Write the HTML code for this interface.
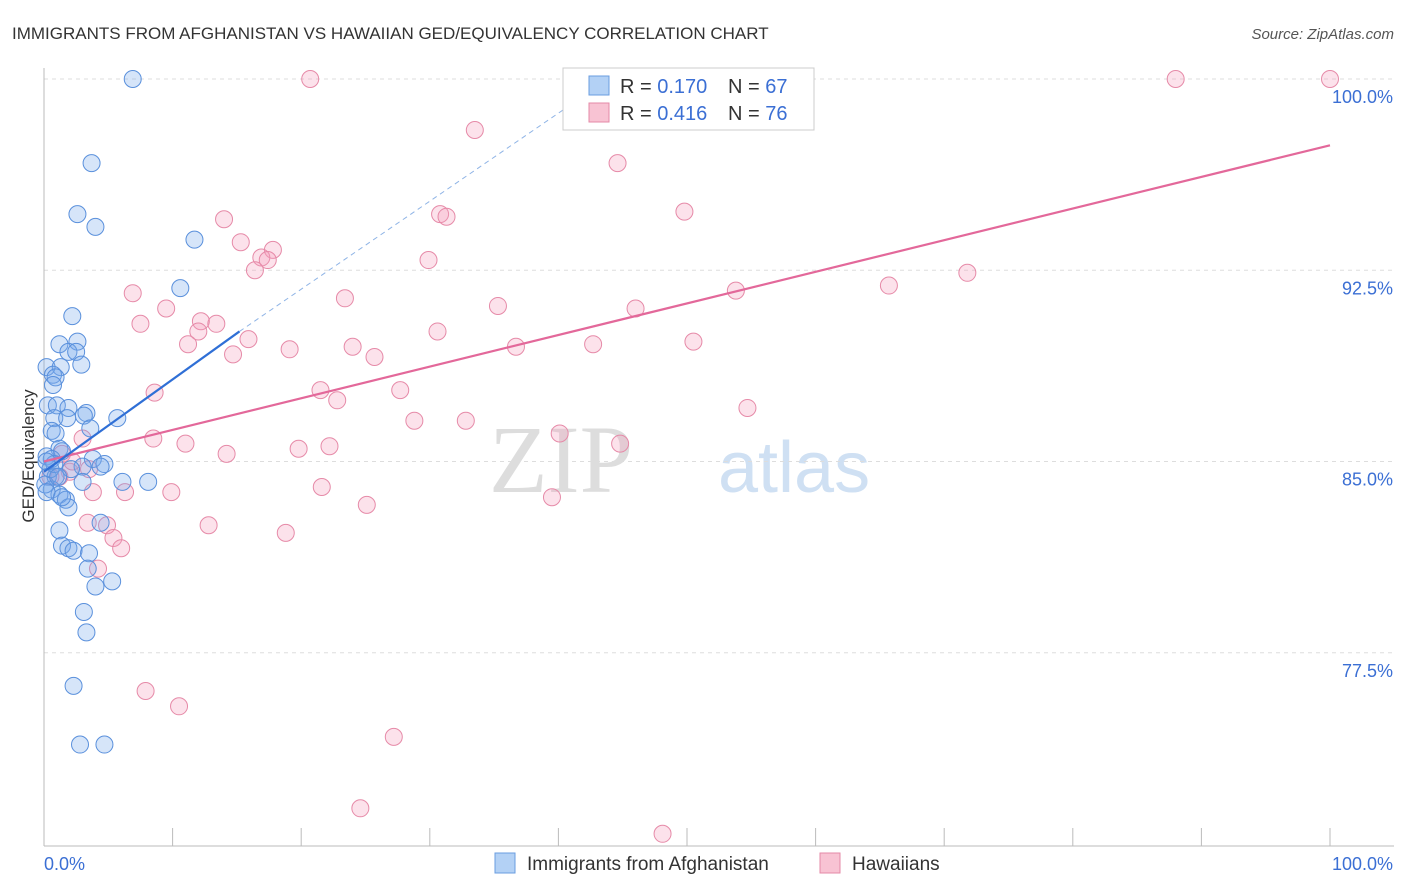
<!DOCTYPE html>
<html><head><meta charset="utf-8"><style>
body{margin:0;background:#fff;font-family:"Liberation Sans",sans-serif}
svg{display:block}
</style></head><body>
<svg id="chart" width="1406" height="892" xmlns="http://www.w3.org/2000/svg">
<text x="12" y="39" font-size="17" fill="#333">IMMIGRANTS FROM AFGHANISTAN VS HAWAIIAN GED/EQUIVALENCY CORRELATION CHART</text>
<text x="1394" y="39" font-size="15" fill="#555" font-style="italic" text-anchor="end">Source: ZipAtlas.com</text>
<g>
<text x="633" y="492" font-size="96" fill="#ddd" text-anchor="end" font-family="Liberation Serif,serif">ZIP</text>
<text x="718" y="492" font-size="72" fill="#cfe0f3">atlas</text>
</g>
<g id="grid"></g><g id="axes"></g><g id="pts"></g><g id="trend"></g>
<g>
<rect x="563" y="68" width="251" height="62" fill="#fff" stroke="#ccc"/>
<rect x="589" y="76" width="20" height="19" fill="#b3d1f5" stroke="#6a9de0"/>
<rect x="589" y="103" width="20" height="19" fill="#f8c3d3" stroke="#e48aa7"/>
<text x="620" y="93" font-size="20" fill="#333">R = <tspan fill="#3b6fd4">0.170</tspan></text>
<text x="728" y="93" font-size="20" fill="#333">N = <tspan fill="#3b6fd4">67</tspan></text>
<text x="620" y="120" font-size="20" fill="#333">R = <tspan fill="#3b6fd4">0.416</tspan></text>
<text x="728" y="120" font-size="20" fill="#333">N = <tspan fill="#3b6fd4">76</tspan></text>
</g>
<g>
<rect x="495" y="853" width="20" height="20" fill="#b3d1f5" stroke="#6a9de0"/>
<text x="527" y="870" font-size="19" fill="#333">Immigrants from Afghanistan</text>
<rect x="820" y="853" width="20" height="20" fill="#f8c3d3" stroke="#e48aa7"/>
<text x="852" y="870" font-size="19" fill="#333">Hawaiians</text>
</g>
<text transform="translate(34,456) rotate(-90)" font-size="17" fill="#333" text-anchor="middle">GED/Equivalency</text>
</svg>
<script>
const yTicks=[100,92.5,85,77.5];
const yTickLabels=["100.0%","92.5%","85.0%","77.5%"];
const xLabels=["0.0%","100.0%"];
const blueX=[6.9,3.7,2.6,4.0,11.7,10.6,2.2,1.2,2.6,1.9,2.5,2.9,0.2,1.3,0.7,0.9,0.7,0.3,1.0,1.9,3.3,3.1,5.7,0.8,1.8,0.6,0.9,3.6,1.2,1.4,3.8,4.7,3.0,0.2,0.6,2.1,0.3,0.9,3.0,6.1,8.1,0.6,1.2,1.7,1.9,4.4,1.2,1.4,1.9,2.3,3.5,3.4,4.0,5.3,3.1,3.3,2.3,2.8,4.7,0.1,0.2,1.4,0.5,0.8,4.4,0.2,1.1];
const blueY=[100,96.7,94.7,94.2,93.7,91.8,90.7,89.6,89.7,89.3,89.3,88.8,88.7,88.7,88.4,88.3,88.0,87.2,87.2,87.1,86.9,86.8,86.7,86.7,86.7,86.2,86.1,86.3,85.5,85.4,85.1,84.9,84.8,85.2,85.1,84.7,84.4,84.4,84.2,84.2,84.2,83.9,83.7,83.5,83.2,82.6,82.3,81.7,81.6,81.5,81.4,80.8,80.1,80.3,79.1,78.3,76.2,73.9,73.9,84.1,83.8,83.6,84.7,84.9,84.8,85.0,84.4];
const pinkX=[20.7,88.0,100,33.5,44.6,49.8,14.0,30.8,31.3,15.3,17.8,16.9,17.4,16.4,29.9,6.9,23.4,35.3,9.5,7.5,12.2,13.4,12.0,15.9,11.2,30.6,24.0,19.1,25.7,14.7,42.7,36.7,50.5,53.8,65.7,71.8,46.0,8.6,21.5,22.8,27.7,54.7,8.5,11.0,28.8,32.8,40.1,44.8,3.0,14.2,19.8,22.2,1.4,3.5,2.0,1.2,3.8,6.3,9.9,21.6,25.1,39.5,3.4,4.9,12.8,18.8,5.4,6.0,4.2,7.9,10.5,27.2,24.6,48.1,2.2,0.5];
const pinkY=[100,100,100,98.0,96.7,94.8,94.5,94.7,94.6,93.6,93.3,93.0,92.9,92.5,92.9,91.6,91.4,91.1,91.0,90.4,90.5,90.4,90.1,89.8,89.6,90.1,89.5,89.4,89.1,89.2,89.6,89.5,89.7,91.7,91.9,92.4,91.0,87.7,87.8,87.4,87.8,87.1,85.9,85.7,86.6,86.6,86.1,85.7,85.9,85.3,85.5,85.6,85.3,84.7,84.6,84.4,83.8,83.8,83.8,84.0,83.3,83.6,82.6,82.5,82.5,82.2,82.0,81.6,80.8,76.0,75.4,74.2,71.4,70.4,85.0,84.4];
const blueTrend=[[0,84.6],[15.2,90.1]];
const blueDash=[[15.2,90.1],[43.3,99.8]];
const pinkTrend=[[0,85.0],[100,97.4]];
const NS="http://www.w3.org/2000/svg";
const X0=44,X1=1330,Y100=79,YPX=25.5;
const sx=v=>X0+(X1-X0)*v/100;
const sy=v=>Y100+(100-v)*YPX;
function mk(tag,attrs,parent){const e=document.createElementNS(NS,tag);for(const k in attrs)e.setAttribute(k,attrs[k]);document.getElementById(parent).appendChild(e);return e;}
yTicks.forEach((t,i)=>{
 const g=mk('line',{x1:X0,x2:1394,y1:sy(t),y2:sy(t),stroke:'#ddd','stroke-dasharray':'4,4'},'grid');
 
 
 const l=mk('text',{x:1393,y:sy(t)+24,'font-size':18,fill:'#3b6fd4','text-anchor':'end'},'axes');
 l.textContent=yTickLabels[i];
 
 
});
const ya=mk('line',{x1:X0,x2:X0,y1:68,y2:846,stroke:'#bbb'},'axes');


const xa=mk('line',{x1:X0,x2:1394,y1:846,y2:846,stroke:'#bbb'},'axes');


for(let i=0;i<=10;i++){
 const t=mk('line',{x1:sx(i*10),x2:sx(i*10),y1:828,y2:846,stroke:'#bbb'},'axes');
 
 
}
[[0,'start'],[100,'end']].forEach((p,i)=>{
 const l=mk('text',{x:i?1393:44,y:870,'font-size':18,fill:'#3b6fd4','text-anchor':p[1]},'axes');
 l.textContent=xLabels[i];
 
 
});
pinkX.forEach((v,i)=>{
 const c=mk('circle',{cx:sx(v),cy:sy(pinkY[i]),r:8.5,fill:'rgba(244,160,188,0.3)',stroke:'#e68aa8','stroke-width':1},'pts');
 
 
});
blueX.forEach((v,i)=>{
 const c=mk('circle',{cx:sx(v),cy:sy(blueY[i]),r:8.5,fill:'rgba(120,170,235,0.3)',stroke:'#5a90dc','stroke-width':1},'pts');
 
 
});
const pt=mk('line',{x1:sx(pinkTrend[0][0]),y1:sy(pinkTrend[0][1]),x2:sx(pinkTrend[1][0]),y2:sy(pinkTrend[1][1]),stroke:'#e3689a','stroke-width':2.2},'trend');


const bd=mk('line',{x1:sx(blueDash[0][0]),y1:sy(blueDash[0][1]),x2:sx(blueDash[1][0]),y2:sy(blueDash[1][1]),stroke:'#8fb4e6','stroke-width':1,'stroke-dasharray':'5,4'},'trend');


const bt=mk('line',{x1:sx(blueTrend[0][0]),y1:sy(blueTrend[0][1]),x2:sx(blueTrend[1][0]),y2:sy(blueTrend[1][1]),stroke:'#2f6fd6','stroke-width':2.2},'trend');


</script>
</body></html>
